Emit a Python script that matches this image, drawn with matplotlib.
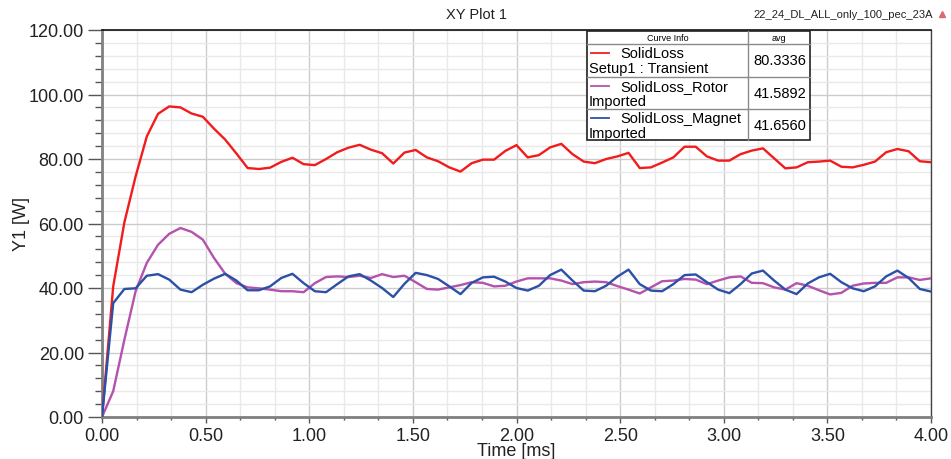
# -*- coding: utf-8 -*-
'''
XY Plot 1 - solid loss transient (total / rotor / magnet)
'''
import numpy as np
import matplotlib as mpl
import matplotlib.pyplot as plt
from matplotlib.lines import Line2D
from matplotlib.patches import Rectangle
from matplotlib.ticker import MultipleLocator, FormatStrFormatter

mpl.rcParams['font.family'] = ['Liberation Sans', 'DejaVu Sans']

# data (75 samples, 0 .. 4 ms)
t_end = 4.0
n_pts = 75
time_ms = np.linspace(0, t_end, n_pts)

loss_total = [0, 40.5, 60.4, 74.6, 87.0, 94.0, 96.3, 96.0, 94.1, 93.1,
              89.4, 86.0, 81.7, 77.2, 76.9, 77.3, 79.1, 80.4, 78.4, 78.1,
              80.0, 82.1, 83.5, 84.4, 82.9, 81.8, 78.6, 82.0, 82.8, 80.5,
              79.3, 77.4, 76.1, 78.7, 79.8, 79.8, 82.5, 84.3, 80.5, 81.2,
              83.6, 84.7, 81.5, 79.2, 78.7, 80.0, 80.8, 81.9, 77.2, 77.4,
              78.9, 80.5, 83.8, 83.8, 80.8, 79.5, 79.5, 81.5, 82.6, 83.3,
              80.2, 77.1, 77.4, 79.0, 79.2, 79.5, 77.6, 77.4, 78.2, 79.2,
              82.1, 83.1, 82.4, 79.3, 79.0]

loss_rotor = [0, 8.0, 24.0, 39.0, 47.8, 53.4, 56.8, 58.6, 57.4, 55.0,
              49.3, 44.4, 41.5, 40.2, 39.9, 39.5, 39.0, 39.0, 38.7, 41.5,
              43.4, 43.6, 43.4, 43.8, 43.1, 44.3, 43.4, 43.8, 41.8, 39.7,
              39.5, 40.2, 40.9, 41.8, 41.6, 40.5, 40.7, 42.0, 43.0, 43.0,
              43.0, 42.3, 41.2, 41.8, 42.0, 41.8, 40.6, 39.5, 38.3, 40.2,
              42.1, 42.3, 42.8, 42.6, 41.2, 42.3, 43.3, 43.6, 41.6, 41.5,
              40.2, 39.5, 41.5, 40.7, 39.3, 38.0, 38.5, 40.7, 41.4, 41.6,
              41.6, 43.3, 43.3, 42.5, 43.0]

loss_magnet = [0, 35.3, 39.7, 39.9, 43.8, 44.3, 42.6, 39.5, 38.7, 41.0,
               42.9, 44.4, 42.3, 39.3, 39.3, 40.5, 43.1, 44.4, 41.5, 39.0,
               38.7, 41.2, 43.6, 44.3, 42.3, 40.0, 37.2, 41.3, 44.7, 44.0,
               42.8, 40.5, 38.1, 41.6, 43.3, 43.5, 42.0, 40.0, 39.2, 40.7,
               44.0, 45.7, 42.3, 39.2, 39.0, 40.7, 43.5, 45.7, 41.2, 39.2,
               39.0, 41.2, 44.0, 44.2, 41.8, 39.5, 38.4, 41.2, 44.5, 45.4,
               42.3, 39.5, 38.1, 41.4, 43.3, 44.4, 41.8, 39.9, 39.0, 40.5,
               43.6, 45.4, 43.1, 39.7, 38.9]

curve_names = ['SolidLoss', 'SolidLoss_Rotor', 'SolidLoss_Magnet']
curve_src = ['Setup1 : Transient', 'Imported', 'Imported']
curve_avg = ['80.3336', '41.5892', '41.6560']
curve_col = ['#f21c1c', '#b452ad', '#2b50a6']

W, H = 951, 460
fig = plt.figure(figsize=(W / 100, H / 100), dpi=100)
ax = fig.add_axes([102 / W, 42 / H, 829 / W, 387 / H])

for y, c in zip([loss_total, loss_rotor, loss_magnet], curve_col):
    ax.plot(time_ms, y, color=c, lw=1.7, zorder=3)

ax.set_xlim(0, 4)
ax.set_ylim(0, 120)
ax.xaxis.set_major_locator(MultipleLocator(0.5))
ax.xaxis.set_minor_locator(MultipleLocator(0.5 / 3))
ax.yaxis.set_major_locator(MultipleLocator(20))
ax.yaxis.set_minor_locator(MultipleLocator(4))
ax.xaxis.set_major_formatter(FormatStrFormatter('%.2f'))
ax.yaxis.set_major_formatter(FormatStrFormatter('%.2f'))
ax.grid(which='major', color='#cccccc', lw=1.0)
ax.grid(which='minor', color='#e9e9e9', lw=1.0)
ax.set_axisbelow(True)

ax.tick_params(axis='both', which='both', direction='out', colors='#555555',
               labelcolor='#222222', labelsize=13)
ax.tick_params(axis='y', which='major', length=10, width=1, pad=3)
ax.tick_params(axis='y', which='minor', length=5, width=1)
ax.tick_params(axis='x', which='major', length=4, width=1, pad=3)
ax.tick_params(axis='x', which='minor', length=2.5, width=1)

for s in ['left', 'bottom']:
    ax.spines[s].set_color('#808080')
    ax.spines[s].set_linewidth(2)
ax.spines['top'].set_color('#111111')
ax.spines['top'].set_linewidth(1.2)
ax.spines['right'].set_color('#444444')
ax.spines['right'].set_linewidth(1)

ax.set_xlabel('Time [ms]', fontsize=13, color='#222222', labelpad=-1)
ax.set_ylabel('Y1 [W]', fontsize=13, color='#222222', labelpad=-1)


def px(x, y):
    return x / W, 1 - y / H


fig.text(*px(477, 15), 'XY Plot 1', ha='center', va='center', fontsize=10.5, color='#222222')
fig.text(*px(843, 15), '22_24_DL_ALL_only_100_pec_23A', ha='center', va='center',
         fontsize=8, color='#222222')
fig.add_artist(Line2D([px(942, 0)[0]], [px(0, 15)[1]], marker='^', ms=5,
                      color='#d96a72', transform=fig.transFigure))

# curve info table
x0, x1, x2 = 587, 748, 810
row_y = [32, 45, 78, 110, 141]
tb = Rectangle(px(x0, row_y[-1]), (x2 - x0) / W, (row_y[-1] - row_y[0]) / H,
               transform=fig.transFigure, facecolor='white', edgecolor='#222222', lw=1.2)
fig.patches.append(tb)
fig.add_artist(Line2D([x1 / W, x1 / W], [px(0, row_y[0])[1], px(0, row_y[-1])[1]],
                      color='#8a8a8a', lw=1, transform=fig.transFigure))
for yy in row_y[1:-1]:
    fig.add_artist(Line2D([x0 / W, x2 / W], [px(0, yy)[1]] * 2, color='#8a8a8a', lw=1,
                          transform=fig.transFigure))

fig.text(*px((x0 + x1) / 2, 38.5), 'Curve Info', ha='center', va='center', fontsize=6.5)
fig.text(*px((x1 + x2) / 2, 38.5), 'avg', ha='center', va='center', fontsize=6.5)
for i in range(3):
    top, bot = row_y[i + 1], row_y[i + 2]
    fig.add_artist(Line2D([591 / W, 609 / W], [px(0, top + 8.5)[1]] * 2, color=curve_col[i],
                          lw=1.3, transform=fig.transFigure))
    fig.text(*px(620, top + 9.5), curve_names[i], ha='left', va='center', fontsize=10.5)
    fig.text(*px(589, top + 24), curve_src[i], ha='left', va='center', fontsize=10.5)
    fig.text(*px(806, (top + bot) / 2), curve_avg[i], ha='right', va='center', fontsize=10.5)

fig.savefig('out.png', dpi=100)
